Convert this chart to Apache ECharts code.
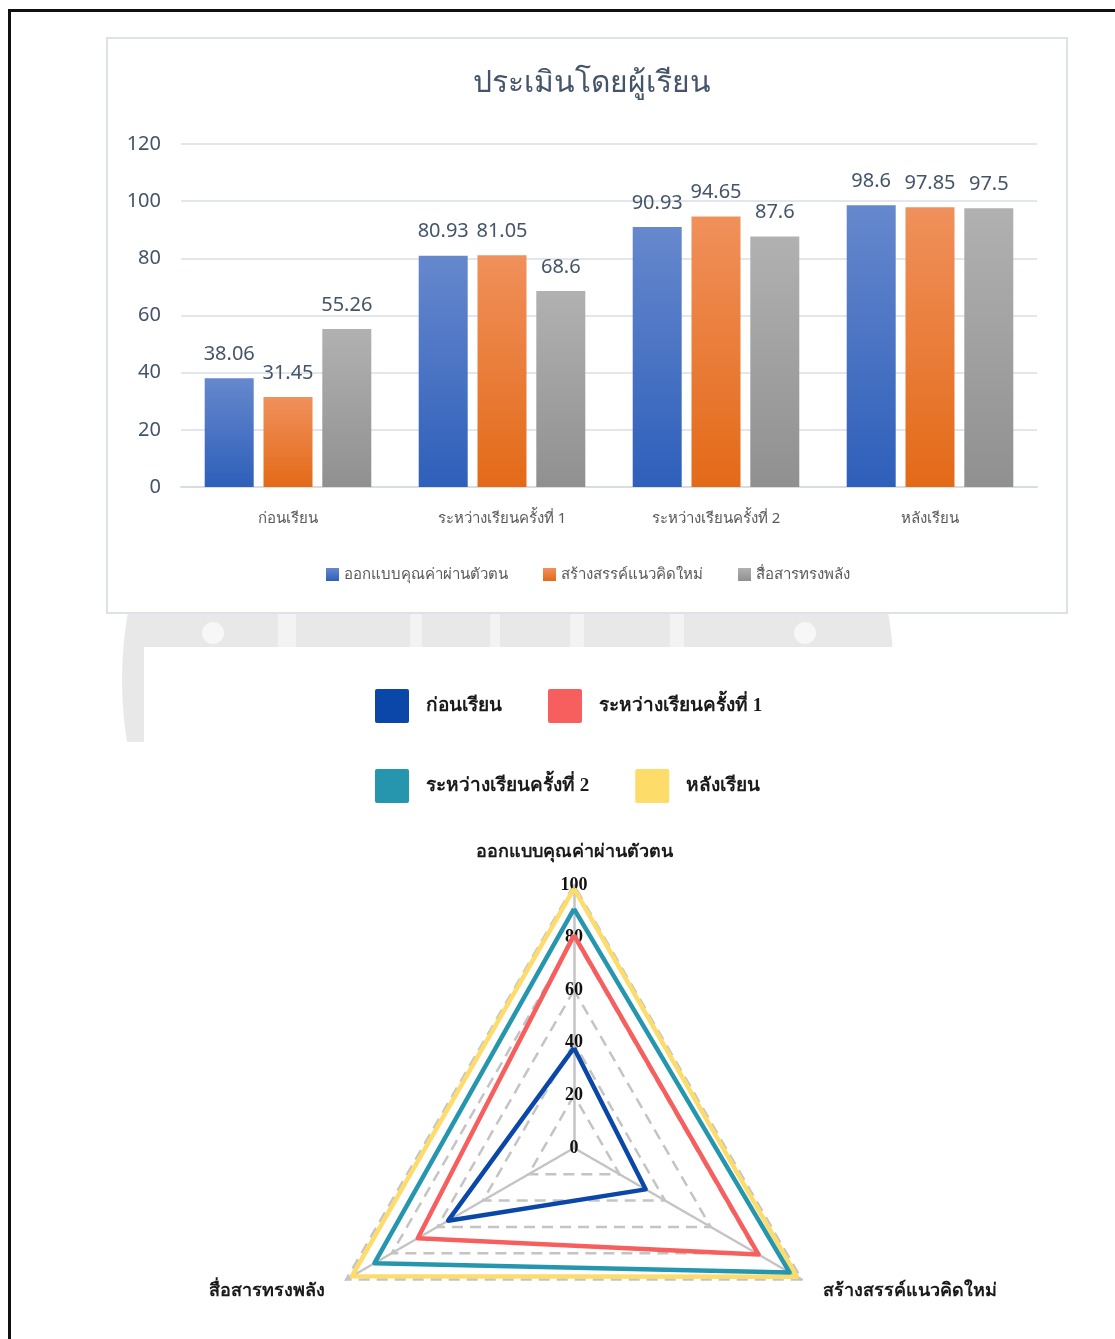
<!DOCTYPE html>
<html>
<head>
<meta charset="utf-8">
<script src="https://cdn.jsdelivr.net/npm/echarts@6/dist/echarts.min.js"></script>
<style>
  html, body { margin: 0; padding: 0; background: #fff; }
  body { width: 1115px; height: 1339px; position: relative; overflow: hidden; }
  #frame { position: absolute; left: 8px; top: 9px; width: 1130px; height: 1360px; border: 3px solid #111; box-sizing: border-box; }
  #box1 { position: absolute; left: 106px; top: 37px; width: 962px; height: 577px; border: 2px solid #dde1e8; box-sizing: border-box; background: #fff; }
  #wm { position: absolute; left: 110px; top: 614px; width: 800px; height: 128px; overflow: hidden; }
  #wmc { position: absolute; left: 12px; top: -320px; width: 772px; height: 772px; border-radius: 50%; background: #e8e8e8; }
  .dot { position: absolute; width: 22px; height: 22px; border-radius: 50%; background: #f7f7f7; }
  .wb { position: absolute; background: #f3f3f3; }
  #box2 { position: absolute; left: 144px; top: 647px; width: 1000px; height: 720px; background: #fff; }
  #chart { position: absolute; left: 0; top: 0; width: 1115px; height: 1339px; }
</style>
</head>
<body>
<div id="frame"></div>
<div id="wm">
  <div id="wmc"></div>
  <div class="dot" style="left:92px;top:8px"></div>
  <div class="dot" style="left:684px;top:8px"></div>
  <div class="wb" style="left:168px;top:0;width:18px;height:34px"></div>
  <div class="wb" style="left:300px;top:0;width:12px;height:34px"></div>
  <div class="wb" style="left:380px;top:0;width:10px;height:34px"></div>
  <div class="wb" style="left:460px;top:0;width:14px;height:34px"></div>
  <div class="wb" style="left:560px;top:0;width:14px;height:34px"></div>
</div>
<div id="box1"></div>
<div id="box2"></div>
<div id="chart"></div>
<script>
// ---- data ----
const categories = ['ก่อนเรียน', 'ระหว่างเรียนครั้งที่ 1', 'ระหว่างเรียนครั้งที่ 2', 'หลังเรียน'];
const barSeriesNames = ['ออกแบบคุณค่าผ่านตัวตน', 'สร้างสรรค์แนวคิดใหม่', 'สื่อสารทรงพลัง'];
const designValues = [38.06, 80.93, 90.93, 98.6];
const createValues = [31.45, 81.05, 94.65, 97.85];
const communicateValues = [55.26, 68.6, 87.6, 97.5];
const yTicks = [0, 20, 40, 60, 80, 100, 120];

const radarIndicators = ['ออกแบบคุณค่าผ่านตัวตน', 'สื่อสารทรงพลัง', 'สร้างสรรค์แนวคิดใหม่'];
const radarBefore = [38.06, 55.26, 31.45];
const radarDuring1 = [80.93, 68.6, 81.05];
const radarDuring2 = [90.93, 87.6, 94.65];
const radarAfter = [98.6, 97.5, 97.85];
const radarTicks = [0, 20, 40, 60, 80, 100];

// ---- styles ----
const sans = '"Noto Sans", "Open Sans", sans-serif';
const serif = '"Liberation Serif", "DejaVu Serif", serif';
function grad(top, bottom) {
  return new echarts.graphic.LinearGradient(0, 0, 0, 1, [{offset: 0, color: top}, {offset: 1, color: bottom}]);
}
const barColors = [grad('#6688cd', '#2e5fba'), grad('#f0905b', '#e36a18'), grad('#b1b1b1', '#909090')];
const barValues = [designValues, createValues, communicateValues];
const radarNames = ['ก่อนเรียน', 'ระหว่างเรียนครั้งที่ 1', 'ระหว่างเรียนครั้งที่ 2', 'หลังเรียน'];
const radarData = [radarBefore, radarDuring1, radarDuring2, radarAfter];
const radarColors = ['#0b47a8', '#f75f5f', '#2596ae', '#fddc6a'];

const chart = echarts.init(document.getElementById('chart'), null, {renderer: 'canvas'});

const barSeries = barSeriesNames.map((n, i) => ({
  name: n,
  type: 'bar',
  xAxisIndex: 0, yAxisIndex: 0,
  data: barValues[i],
  barWidth: 49,
  barGap: '20%',
  itemStyle: {color: barColors[i]},
  label: {show: true, position: 'top', distance: 14, fontSize: 20, color: '#44546a', fontFamily: sans}
}));

const radarSeries = radarNames.map((n, i) => ({
  name: n,
  type: 'radar',
  symbol: 'none',
  z: 2 + (3 - i),
  lineStyle: {color: radarColors[i], width: 4.5},
  itemStyle: {color: radarColors[i]},
  data: [{name: n, value: radarData[i]}]
}));

const legendTextRadar = {fontSize: 19, fontWeight: 'bold', fontFamily: serif, color: '#1a1a1a', padding: [0, 0, 0, 12]};
const squareIcon = 'path://M2,0H32Q34,0 34,2V32Q34,34 32,34H2Q0,34 0,32V2Q0,0 2,0Z';

chart.setOption({
  animation: false,
  title: {
    text: 'ประเมินโดยผู้เรียน',
    left: 587, top: 63, textAlign: 'center',
    textStyle: {fontSize: 30, fontWeight: 'normal', color: '#44546a', fontFamily: sans}
  },
  legend: [
    {
      data: barSeriesNames, left: 326, top: 567, padding: 0,
      itemWidth: 13, itemHeight: 13, itemGap: 35,
      icon: 'rect',
      textStyle: {fontSize: 15, color: '#595959', fontFamily: sans}
    },
    {
      data: radarNames.slice(0, 2), left: 375, top: 689, padding: 0,
      itemWidth: 34, itemHeight: 34, itemGap: 46, icon: squareIcon,
      textStyle: legendTextRadar
    },
    {
      data: radarNames.slice(2), left: 375, top: 769, padding: 0,
      itemWidth: 34, itemHeight: 34, itemGap: 46, icon: squareIcon,
      textStyle: legendTextRadar
    }
  ],
  grid: {left: 181, top: 144, width: 856, height: 343},
  xAxis: {
    type: 'category', data: categories,
    axisLine: {lineStyle: {color: '#d9dce3', width: 2}},
    axisTick: {show: false},
    axisLabel: {fontSize: 15, color: '#595959', margin: 24, fontFamily: sans}
  },
  yAxis: {
    type: 'value', min: yTicks[0], max: yTicks[yTicks.length - 1], interval: 20,
    axisLine: {show: false}, axisTick: {show: false},
    axisLabel: {fontSize: 20, color: '#44546a', margin: 20, fontFamily: sans},
    splitLine: {lineStyle: {color: '#e3e6ec', width: 2}}
  },
  radar: {
    center: [574, 1148],
    radius: 263,
    shape: 'polygon',
    startAngle: 90,
    splitNumber: radarTicks.length - 1,
    nameGap: 24,
    axisName: {color: '#1a1a1a', fontSize: 18, fontWeight: 'bold', fontFamily: serif},
    indicator: radarIndicators.map((n, i) => i === 0
      ? {name: n, min: radarTicks[0], max: radarTicks[radarTicks.length - 1], axisLabel: {show: true}}
      : {name: n, min: radarTicks[0], max: radarTicks[radarTicks.length - 1]}),
    axisLabel: {show: false, color: '#111', fontSize: 18, fontWeight: 'bold', fontFamily: serif, align: 'center', margin: 0},
    axisLine: {lineStyle: {color: '#c4c4c4', width: 2.5}},
    splitLine: {lineStyle: {color: '#c4c4c4', width: 2.5, type: [11, 7]}},
    splitArea: {show: false}
  },
  series: barSeries.concat(radarSeries)
});
</script>
</body>
</html>
